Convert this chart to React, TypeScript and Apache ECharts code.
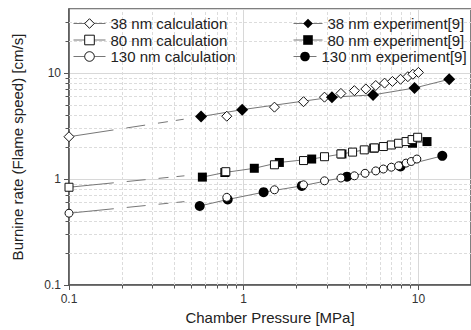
import React, { useEffect, useRef } from 'react';
import * as echarts from 'echarts';

// ---- data ----
const xMinorTicks = [0.2, 0.3, 0.4, 0.5, 0.6, 0.7, 0.8, 0.9, 2, 3, 4, 5, 6, 7, 8, 9];
const yMinorTicks = [0.2, 0.3, 0.4, 0.5, 0.6, 0.7, 0.8, 0.9, 2, 3, 4, 5, 6, 7, 8, 9, 20, 30];

const calc38 = [[0.1, 2.5], [0.8, 3.9], [1.5, 4.75], [2.2, 5.35], [2.9, 5.9], [3.6, 6.4], [4.3, 6.8], [5.0, 7.05], [5.7, 7.6], [6.4, 8.0], [7.1, 8.3], [7.9, 8.7], [8.7, 9.2], [9.3, 9.7], [10, 10.1]];
const exp38 = [[0.57, 3.87], [0.98, 4.5], [3.2, 5.9], [5.5, 6.2], [9.5, 7.2], [15, 8.7]];
const calc80 = [[0.1, 0.835], [0.79, 1.17], [1.5, 1.36], [2.2, 1.49], [2.9, 1.62], [3.6, 1.72], [4.2, 1.79], [4.9, 1.88], [5.6, 1.96], [6.3, 2.02], [7.0, 2.09], [7.7, 2.17], [8.5, 2.25], [9.2, 2.35], [9.9, 2.47]];
const exp80 = [[0.58, 1.04], [0.78, 1.15], [1.15, 1.26], [1.6, 1.43], [2.45, 1.54], [3.65, 1.72], [5.55, 1.95], [9.25, 2.17], [11.2, 2.25]];
const calc130 = [[0.1, 0.475], [0.8, 0.67], [1.5, 0.79], [2.2, 0.88], [2.9, 0.96], [3.6, 1.02], [4.3, 1.07], [4.95, 1.13], [5.7, 1.19], [6.3, 1.24], [7.0, 1.29], [7.7, 1.33], [8.5, 1.41], [9.1, 1.46], [9.8, 1.54]];
const exp130 = [[0.56, 0.556], [0.81, 0.64], [1.3, 0.75], [2.15, 0.86], [3.9, 1.05], [7.9, 1.31], [13.7, 1.65]];

const ext38 = [[0.1, 2.5], [0.57, 3.87]];
const ext80 = [[0.1, 0.835], [0.79, 1.17]];
const ext130 = [[0.1, 0.475], [0.8, 0.67]];

const calcNames = ['38 nm calculation', '80 nm calculation', '130 nm calculation'];
const expNames = ['38 nm experiment[9]', '80 nm experiment[9]', '130 nm experiment[9]'];

const X_MIN = 0.1, X_MAX = 20, Y_MIN = 0.1, Y_MAX = 40;
const FONT = 'Liberation Sans, Arial, sans-serif';

export default function App() {
  const ref = useRef<HTMLDivElement>(null);
  useEffect(() => {
    if (!ref.current) return;
    const chart = echarts.init(ref.current, undefined, { renderer: 'svg' });

    const minorX = (params: any, api: any) => {
      const v = api.value(0);
      const p0 = api.coord([v, Y_MIN]);
      const p1 = api.coord([v, Y_MAX]);
      const x = Math.round(p0[0]) + 0.5;
      return {
        type: 'group',
        children: [
          { type: 'line', shape: { x1: x, y1: p0[1], x2: x, y2: p1[1] }, style: { stroke: '#dcdcdc', lineWidth: 1, lineDash: [3, 2] } },
          { type: 'line', shape: { x1: x, y1: p0[1], x2: x, y2: p0[1] + 3.5 }, style: { stroke: '#555', lineWidth: 1 } },
        ],
      };
    };
    const minorY = (params: any, api: any) => {
      const v = api.value(1);
      const p0 = api.coord([X_MIN, v]);
      const p1 = api.coord([X_MAX, v]);
      const y = Math.round(p0[1]) + 0.5;
      return {
        type: 'group',
        children: [
          { type: 'line', shape: { x1: p0[0], y1: y, x2: p1[0], y2: y }, style: { stroke: '#dcdcdc', lineWidth: 1, lineDash: [3, 2] } },
          { type: 'line', shape: { x1: p0[0] - 3.5, y1: y, x2: p0[0], y2: y }, style: { stroke: '#555', lineWidth: 1 } },
        ],
      };
    };

    const dash = [45, 13, 19, 13, 10, 8, 8, 300];
    const extSeries = (data: number[][]) => ({
      type: 'line', data, symbol: 'none', silent: true, clip: false, z: 2,
      lineStyle: { color: '#777', width: 1, type: dash },
    });
    const expSeries = (name: string, data: number[][], symbol: string, size: number) => ({
      type: 'line', name, data, symbol, symbolSize: size, showSymbol: true, clip: false, z: 3,
      lineStyle: { color: '#777', width: 1 },
      itemStyle: { color: '#000' },
    });
    const calcSeries = (name: string, data: number[][], symbol: string, size: number, z: number) => ({
      type: 'line', name, data, symbol, symbolSize: size, showSymbol: true, clip: false, z,
      lineStyle: { width: 0 },
      itemStyle: { color: '#fff', borderColor: '#111', borderWidth: 1 },
    });

    const legendCommon = {
      orient: 'vertical',
      top: 16,
      padding: 0,
      itemHeight: 12,
      itemGap: 1.5,
      selectedMode: false,
      textStyle: { fontSize: 15, fontFamily: FONT, color: '#222' },
      lineStyle: { color: '#777', width: 1, type: 'solid', opacity: 1 },
      itemStyle: { borderWidth: 1 },
    };

    chart.setOption({
      animation: false,
      textStyle: { fontFamily: FONT },
      grid: { left: 69, top: 9, width: 405, height: 276, show: true, borderColor: '#555', borderWidth: 1.5, backgroundColor: 'transparent' },
      legend: [
        { ...legendCommon, left: 73, itemWidth: 32, data: calcNames },
        { ...legendCommon, left: 293, itemWidth: 29, data: expNames.slice(0, 2) },
        { ...legendCommon, left: 293, top: 49, itemWidth: 23, data: expNames.slice(2) },
      ],
      xAxis: {
        type: 'log', logBase: 10, min: X_MIN, max: X_MAX,
        name: 'Chamber Pressure [MPa]', nameLocation: 'middle', nameGap: 20,
        nameTextStyle: { fontSize: 15, color: '#222', fontFamily: FONT },
        axisLine: { show: true, lineStyle: { color: '#555', width: 1.5 } },
        axisTick: { show: true, inside: false, length: 5, lineStyle: { color: '#555', width: 1 } },
        axisLabel: { fontSize: 12, color: '#333', margin: 8, showMaxLabel: false, fontFamily: FONT },
        splitLine: { show: true, lineStyle: { color: '#d8d8d8', width: 1 } },
      },
      yAxis: {
        type: 'log', logBase: 10, min: Y_MIN, max: Y_MAX,
        name: 'Burnine rate (Flame speed) [cm/s]', nameLocation: 'middle', nameGap: 44,
        nameTextStyle: { fontSize: 15, color: '#222', fontFamily: FONT },
        axisLine: { show: true, lineStyle: { color: '#555', width: 1.5 } },
        axisTick: { show: true, inside: false, length: 5, lineStyle: { color: '#555', width: 1 } },
        axisLabel: { fontSize: 12, color: '#333', margin: 8, showMaxLabel: false, fontFamily: FONT },
        splitLine: { show: true, lineStyle: { color: '#d8d8d8', width: 1 } },
      },
      series: [
        { type: 'custom', silent: true, clip: false, z: 1, renderItem: minorX, data: xMinorTicks.map((v) => [v, 1]) },
        { type: 'custom', silent: true, clip: false, z: 1, renderItem: minorY, data: yMinorTicks.map((v) => [1, v]) },
        extSeries(ext38),
        extSeries(ext80),
        extSeries(ext130),
        calcSeries(calcNames[0], calc38, 'diamond', 10, 3),
        expSeries(expNames[0], exp38, 'diamond', 12),
        expSeries(expNames[1], exp80, 'rect', 9),
        calcSeries(calcNames[1], calc80, 'rect', 8, 4),
        expSeries(expNames[2], exp130, 'circle', 10),
        calcSeries(calcNames[2], calc130, 'circle', 8, 4),
      ],
    });
    return () => chart.dispose();
  }, []);
  return <div ref={ref} style={{ position: 'absolute', left: 0, top: 0, width: 471, height: 330 }} />;
}
